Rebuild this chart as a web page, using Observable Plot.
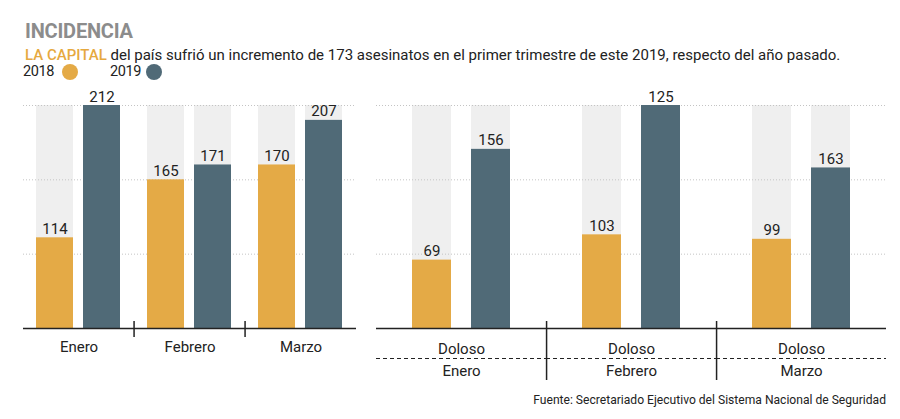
<!DOCTYPE html>
<html>
<head>
<meta charset="utf-8">
<script src="https://cdn.jsdelivr.net/npm/d3@7"></script>
<script src="https://cdn.jsdelivr.net/npm/@observablehq/plot@0.6"></script>
<style>
  html, body { margin: 0; padding: 0; background: #fff; }
  body { width: 900px; height: 419px; position: relative; overflow: hidden; font-family: Roboto, "Noto Sans", sans-serif; color: #222; }
  .abs { position: absolute; white-space: nowrap; line-height: 1; }
  #titulo { left: 25px; top: 21px; font-size: 20px; font-weight: 700; color: #8c8c8c; letter-spacing: -0.2px; }
  #subtitulo { left: 25px; top: 48px; font-size: 15px; color: #222; }
  #subtitulo b { color: #e6a93f; font-weight: 500; }
  .ley { font-size: 14.5px; top: 65px; letter-spacing: -0.4px; }
  .dot { position: absolute; width: 16px; height: 16px; border-radius: 50%; top: 64px; }
  #fuente { right: 14px; top: 394px; font-size: 12.1px; color: #222; }
  #izq { position: absolute; left: 0; top: 80px; }
  #der { position: absolute; left: 370px; top: 80px; }
</style>
</head>
<body>
<div id="titulo" class="abs">INCIDENCIA</div>
<div id="subtitulo" class="abs"><b>LA CAPITAL</b> del país sufrió un incremento de 173 asesinatos en el primer trimestre de este 2019, respecto del año pasado.</div>
<div id="leyenda"></div>
<div id="izq"></div>
<div id="der"></div>
<div id="fuente" class="abs">Fuente: Secretariado Ejecutivo del Sistema Nacional de Seguridad</div>
<script>
// ---- Datos ----
const meses = ["Enero", "Febrero", "Marzo"];
const anios = ["2018", "2019"];
// Total de homicidios (etiquetas mostradas)
const total2018 = [114, 165, 170];
const total2019 = [212, 171, 207];
// Largo de barra tal como aparece dibujado (en pasos de cuadrícula; 3 = línea superior)
const largoTotal2018 = [1.22, 2.0, 2.2];
const largoTotal2019 = [3.0, 2.2, 2.8];
// Homicidio doloso (etiquetas mostradas)
const doloso2018 = [69, 103, 99];
const doloso2019 = [156, 125, 163];
// Largo de barra tal como aparece dibujado
const largoDoloso2018 = [0.92, 1.26, 1.2];
const largoDoloso2019 = [2.41, 3.0, 2.16];
const lineasGuia = [1, 2, 3];
const tope = 3;

const naranja = "#e4aa46";
const pizarra = "#506a77";

function tabla(v18, v19, l18, l19) {
  const out = [];
  meses.forEach((m, i) => {
    out.push({mes: m, anio: "2018", valor: v18[i], largo: l18[i]});
    out.push({mes: m, anio: "2019", valor: v19[i], largo: l19[i]});
  });
  return out;
}

// Leyenda
const ley = document.getElementById("leyenda");
const leyX = [[23, 62], [110, 146]];
ley.innerHTML = anios.map((a, i) =>
  `<div class="abs ley" style="left:${leyX[i][0]}px">${a}</div><div class="dot" style="left:${leyX[i][1]}px;background:${i ? pizarra : naranja}"></div>`
).join("");

function panel({datos, width, ml, mr, pi, po, doble}) {
  const H = 305, mt = 25, mb = 57;
  const W = (width - ml - mr) / meses.length;
  const band = d3.scaleBand().domain(anios).range([0, W]).paddingInner(pi).paddingOuter(po);
  const off = band(anios[0]) + band.bandwidth() / 2;
  const marks = [
    Plot.barY(datos, {fx: "mes", x: "anio", y: () => tope, fill: "#efefef"}),
    Plot.ruleY(lineasGuia, {stroke: "#c4c4c4", strokeDasharray: "1,2", strokeWidth: 1}),
    Plot.barY(datos, {fx: "mes", x: "anio", y: "largo", fill: "anio"}),
    Plot.text(datos, {fx: "mes", x: "anio", y: "largo", text: "valor", dy: -4, lineAnchor: "bottom", fontSize: 15, fill: "#222"}),
    Plot.ruleY([0], {stroke: "#222", strokeWidth: 1.5}),
    Plot.ruleX(meses.slice(1), {fx: d => d, x: () => anios[0], dx: -off, y1: () => 0, y2: () => 0,
      insetTop: -7, insetBottom: doble ? -52 : -9, stroke: "#222", strokeWidth: 1.5})
  ];
  if (doble) {
    marks.push(
      Plot.ruleY([0], {dy: 30, stroke: "#222", strokeWidth: 1.2, strokeDasharray: "4,3"}),
      Plot.text(meses, {fx: d => d, text: () => "Doloso", frameAnchor: "bottom", lineAnchor: "middle", dy: 21, fontSize: 15, fill: "#222"}),
      Plot.text(meses, {fx: d => d, text: d => d, frameAnchor: "bottom", lineAnchor: "middle", dy: 43, fontSize: 15, fill: "#222"})
    );
  } else {
    marks.push(Plot.text(meses, {fx: d => d, text: d => d, frameAnchor: "bottom", lineAnchor: "middle", dy: 19, fontSize: 15, fill: "#222"}));
  }
  return Plot.plot({
    width, height: H, marginTop: mt, marginBottom: mb, marginLeft: ml, marginRight: mr,
    style: {fontFamily: "Roboto, 'Noto Sans', sans-serif", fontSize: "15px", background: "transparent", overflow: "visible"},
    fx: {domain: meses, padding: 0, axis: null},
    x: {domain: anios, paddingInner: pi, paddingOuter: po, axis: null},
    y: {domain: [0, tope], axis: null},
    color: {domain: anios, range: [naranja, pizarra]},
    marks
  });
}

document.getElementById("izq").append(panel({
  datos: tabla(total2018, total2019, largoTotal2018, largoTotal2019),
  width: 370, ml: 23, mr: 13.5, pi: 0.21, po: 0.28, doble: false
}));
document.getElementById("der").append(panel({
  datos: tabla(doloso2018, doloso2019, largoDoloso2018, largoDoloso2019),
  width: 530, ml: 5, mr: 14, pi: 0.336, po: 0.6, doble: true
}));
</script>
</body>
</html>
